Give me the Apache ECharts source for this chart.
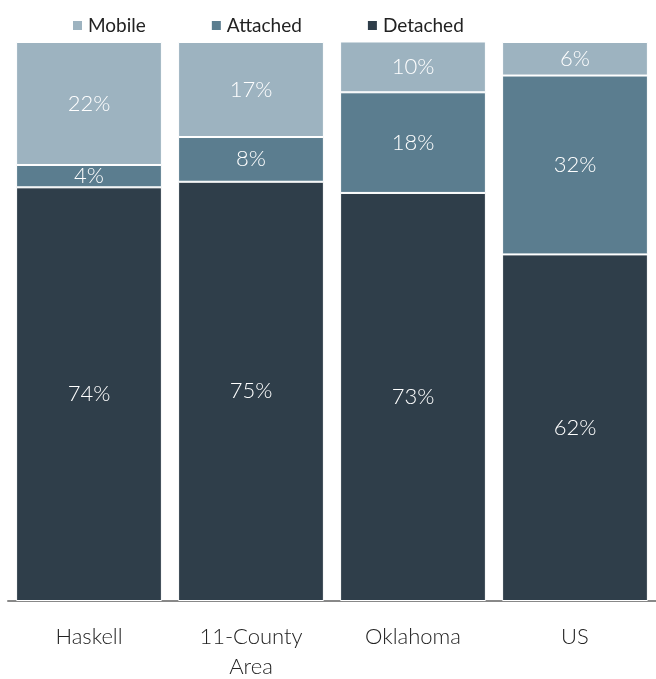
<!DOCTYPE html>
<html>
<head>
<meta charset="utf-8">
<script src="https://cdn.jsdelivr.net/npm/echarts@6/dist/echarts.min.js"></script>
<style>
  html, body { margin: 0; padding: 0; background: #fff; }
  #chart { width: 656px; height: 679px; }
</style>
</head>
<body>
<div id="chart"></div>
<script>
// 住房类型占比
var categories = ['Haskell', '11-County\nArea', 'Oklahoma', 'US'];
var detached = [74, 75, 73, 62];
var attached = [4, 8, 18, 32];
var mobile = [22, 17, 10, 6];

var chart = echarts.init(document.getElementById('chart'));
var font = 'Lato, "Noto Sans", sans-serif';

function seg(name, data, color) {
    return {
        name: name,
        type: 'bar',
        stack: 'total',
        data: data,
        barWidth: '90%',
        itemStyle: {
            color: color,
            borderColor: '#fff',
            borderWidth: 1
        },
        label: {
            show: true,
            position: 'inside',
            color: '#fff',
            fontSize: 22,
            fontWeight: 300,
            fontFamily: font,
            formatter: '{c}%'
        },
        emphasis: { disabled: true }
    };
}

var option = {
    backgroundColor: '#fff',
    animation: false,
    legend: {
        data: ['Mobile', 'Attached', 'Detached'],
        left: 66,
        top: 11,
        itemWidth: 11,
        itemHeight: 11,
        itemGap: 64,
        icon: 'rect',
        textStyle: { fontSize: 19, color: '#222', fontFamily: font }
    },
    grid: {
        left: 8,
        right: 0,
        top: 42,
        bottom: 78,
        containLabel: false,
        outerBoundsMode: 'none'
    },
    xAxis: {
        type: 'category',
        data: categories,
        axisLine: { lineStyle: { color: '#888', width: 2 } },
        axisTick: { show: false },
        axisLabel: {
            color: '#222',
            fontSize: 22,
            fontWeight: 300,
            fontFamily: font,
            margin: 21,
            lineHeight: 30
        }
    },
    yAxis: {
        type: 'value',
        min: 0,
        max: 100,
        show: false
    },
    series: [
        seg('Detached', detached, '#2f3e4a'),
        seg('Attached', attached, '#5b7d8f'),
        seg('Mobile', mobile, '#9db3c0')
    ]
};
chart.setOption(option);
</script>
</body>
</html>
